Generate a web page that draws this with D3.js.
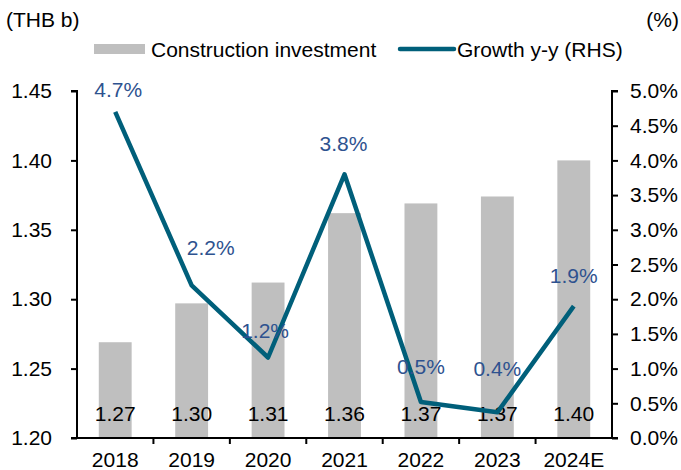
<!DOCTYPE html>
<html>
<head>
<meta charset="utf-8">
<script src="https://cdn.jsdelivr.net/npm/d3@7"></script>
<style>
body { margin: 0; background: #fff; }
svg text { font-family: "Liberation Sans", Arial, sans-serif; }
</style>
</head>
<body>
<svg class="chart" width="681" height="470"></svg>
<script>
var years = ["2018", "2019", "2020", "2021", "2022", "2023", "2024E"];
var investment = [1.269, 1.297, 1.312, 1.362, 1.369, 1.374, 1.400];
var growth = [4.7, 2.2, 1.16, 3.8, 0.52, 0.37, 1.9];
var leftTicks = [1.20, 1.25, 1.30, 1.35, 1.40, 1.45];
var rightTicks = [0, 0.5, 1, 1.5, 2, 2.5, 3, 3.5, 4, 4.5, 5];

var svg = d3.select("svg.chart");
var plotLeft = 77, plotRight = 612, plotTop = 91, plotBottom = 438;
var fontSize = 21;
var barColor = "#bfbfbf", lineColor = "#005f7a", labelColor = "#2e528f";

var x = d3.scaleBand().domain(years).range([plotLeft, plotRight]).paddingInner(0.57).paddingOuter(0.285);
var xTicks = d3.scaleBand().domain(years).range([plotLeft, plotRight]);
var yL = d3.scaleLinear().domain([1.20, 1.45]).range([plotBottom, plotTop]);
var yR = d3.scaleLinear().domain([0, 5]).range([plotBottom, plotTop]);

function cx(i) { return xTicks(years[i]) + xTicks.bandwidth() / 2; }

// bars
svg.selectAll("rect.bar").data(investment).enter().append("rect")
    .attr("class", "bar")
    .attr("x", function (d, i) { return x(years[i]); })
    .attr("y", function (d) { return yL(d); })
    .attr("width", x.bandwidth())
    .attr("height", function (d) { return plotBottom - yL(d); })
    .attr("fill", barColor);

// bar value labels
svg.selectAll("text.barlabel").data(investment).enter().append("text")
    .attr("class", "barlabel")
    .attr("x", function (d, i) { return cx(i); })
    .attr("y", 421)
    .attr("text-anchor", "middle")
    .attr("font-size", fontSize)
    .attr("fill", "#000")
    .text(function (d) { return d.toFixed(2); });

// growth line
var line = d3.line()
    .x(function (d, i) { return cx(i); })
    .y(function (d) { return yR(d); });
svg.append("path")
    .datum(growth)
    .attr("d", line)
    .attr("fill", "none")
    .attr("stroke", lineColor)
    .attr("stroke-width", 4.5)
    .attr("stroke-linejoin", "round");

// growth labels
var labelShift = [[3, -15], [19, -30], [-3, -19], [-1, -23], [0, -28], [0, -36], [0, -23]];
svg.selectAll("text.glabel").data(growth).enter().append("text")
    .attr("class", "glabel")
    .attr("x", function (d, i) { return cx(i) + labelShift[i][0]; })
    .attr("y", function (d, i) { return yR(d) + labelShift[i][1]; })
    .attr("text-anchor", "middle")
    .attr("font-size", fontSize)
    .attr("fill", labelColor)
    .text(function (d) { return d.toFixed(1) + "%"; });

// axes
var axisL = svg.append("g").attr("transform", "translate(" + plotLeft + ",0)")
    .call(d3.axisLeft(yL).tickValues(leftTicks).tickSize(6).tickPadding(19)
        .tickFormat(d3.format(".2f")));
var axisR = svg.append("g").attr("transform", "translate(" + plotRight + ",0)")
    .call(d3.axisRight(yR).tickValues(rightTicks).tickSize(6).tickPadding(12)
        .tickFormat(function (d) { return d.toFixed(1) + "%"; }));
var axisB = svg.append("g").attr("transform", "translate(0," + plotBottom + ")")
    .call(d3.axisBottom(xTicks).tickSize(0).tickPadding(14));
axisB.selectAll(".tick line").remove();
// x ticks at band boundaries
svg.selectAll("line.xt").data(years.slice(1)).enter().append("line")
    .attr("class", "xt")
    .attr("x1", function (d) { return xTicks(d); })
    .attr("x2", function (d) { return xTicks(d); })
    .attr("y1", plotBottom).attr("y2", plotBottom + 6)
    .attr("stroke", "#000").attr("stroke-width", 2);

[axisL, axisR, axisB].forEach(function (g) {
    g.select(".domain").attr("stroke", "#000").attr("stroke-width", 2);
    g.selectAll(".tick line").attr("stroke", "#000").attr("stroke-width", 2);
    g.selectAll("text").attr("font-size", fontSize).attr("fill", "#000")
        .style("font-family", "'Liberation Sans', Arial, sans-serif");
});
axisL.select(".domain").attr("d", "M-6," + plotTop + "H0V" + plotBottom + "H-6");
axisR.select(".domain").attr("d", "M6," + plotTop + "H0V" + plotBottom + "H6");
axisB.select(".domain").attr("d", "M" + plotLeft + ",0H" + plotRight);

// titles
svg.append("text").attr("x", 6).attr("y", 27).attr("font-size", fontSize).text("(THB b)");
svg.append("text").attr("x", 679).attr("y", 27).attr("font-size", fontSize)
    .attr("text-anchor", "end").text("(%)");

// legend
svg.append("rect").attr("x", 94).attr("y", 44).attr("width", 51).attr("height", 10).attr("fill", barColor);
svg.append("text").attr("x", 151).attr("y", 57).attr("font-size", fontSize).text("Construction investment");
svg.append("line").attr("x1", 400).attr("x2", 454).attr("y1", 49).attr("y2", 49)
    .attr("stroke", lineColor).attr("stroke-width", 4.5).attr("stroke-linecap", "round");
svg.append("text").attr("x", 457).attr("y", 57).attr("font-size", fontSize).text("Growth y-y (RHS)");
</script>
</body>
</html>
